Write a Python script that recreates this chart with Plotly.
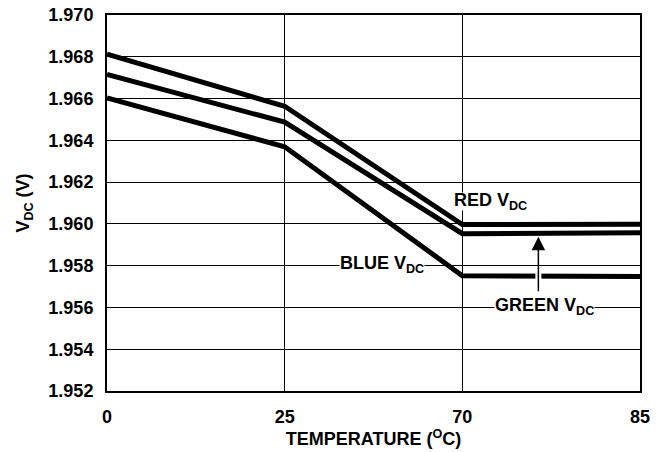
import plotly.graph_objects as go

temps = ["0", "25", "70", "85"]
red_vdc = [1.96812, 1.96563, 1.95997, 1.95998]
green_vdc = [1.96715, 1.96487, 1.95953, 1.95958]
blue_vdc = [1.96603, 1.96369, 1.95752, 1.95748]
y_ticks = [1.952, 1.954, 1.956, 1.958, 1.960, 1.962, 1.964, 1.966, 1.968, 1.970]

FONT = "Liberation Sans, Arial, sans-serif"
FS = 18
fig = go.Figure()
for name, vals in [("RED", red_vdc), ("GREEN", green_vdc), ("BLUE", blue_vdc)]:
    fig.add_trace(go.Scatter(x=temps, y=vals, mode="lines", name=name,
                             line=dict(color="black", width=5), showlegend=False))

# white gap in blue line where the arrow crosses
fig.add_shape(type="line", xref="x", yref="y", x0=2.428, x1=2.428,
              y0=1.95736, y1=1.95764, line=dict(color="white", width=6), layer="above")

ann_font = dict(family=FONT, size=FS, color="black", weight="bold")
fig.add_annotation(x=2.16, y=1.96108, xref="x", yref="y", text="RED V<sub>DC</sub>",
                   showarrow=False, bgcolor="white", borderpad=0, height=17, font=ann_font)
fig.add_annotation(x=1.55, y=1.95808, xref="x", yref="y", text="BLUE V<sub>DC</sub>",
                   showarrow=False, bgcolor="white", borderpad=0, height=17, font=ann_font)
fig.add_annotation(x=2.46, y=1.95606, xref="x", yref="y", text="GREEN V<sub>DC</sub>",
                   showarrow=False, bgcolor="white", borderpad=0, height=17, font=ann_font)
fig.add_annotation(x=2.428, y=1.95938, xref="x", yref="y", ax=2.428, ay=1.9567,
                   axref="x", ayref="y", text="", showarrow=True, arrowhead=2,
                   arrowsize=1.8, arrowwidth=1.5, arrowcolor="black")

fig.update_layout(
    width=660, height=444,
    margin=dict(l=99, r=28, t=7, b=61),
    paper_bgcolor="white", plot_bgcolor="white",
    font=dict(family=FONT, size=FS, color="black", weight="bold"),
    xaxis=dict(type="category", range=[0, 3], showgrid=True, gridcolor="black", gridwidth=1.3,
               showline=True, linecolor="black", linewidth=2, mirror=True,
               ticks="", ticklabelstandoff=8, automargin=False, ticklabeloverflow="allow",
               tickfont=dict(family=FONT, size=FS, color="black", weight="bold"),
               title=dict(text="TEMPERATURE (<sup>O</sup>C)", standoff=6,
                          font=dict(family=FONT, size=FS, color="black", weight="bold")),
               zeroline=False),
    yaxis=dict(range=[1.952, 1.970], tickvals=y_ticks, tickformat=".3f",
               showgrid=True, gridcolor="black", gridwidth=1.3,
               showline=True, linecolor="black", linewidth=2, mirror=True,
               ticks="", ticklabelstandoff=8, automargin=False, ticklabeloverflow="allow",
               tickfont=dict(family=FONT, size=FS, color="black", weight="bold"),
               title=dict(text="V<sub>DC</sub> (V)", standoff=14,
                          font=dict(family=FONT, size=FS, color="black", weight="bold")),
               zeroline=False),
)
fig.write_html("out.html")
